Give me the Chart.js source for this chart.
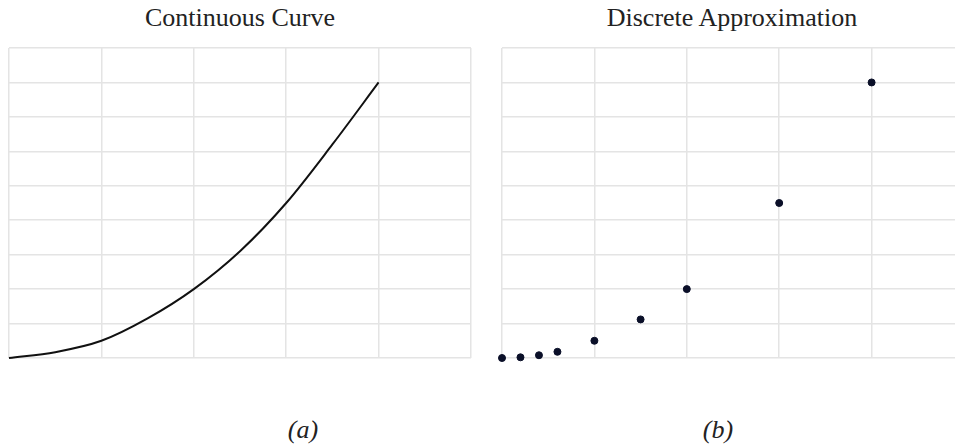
<!DOCTYPE html>
<html>
<head>
<meta charset="utf-8">
<script src="https://cdn.jsdelivr.net/npm/chart.js@4"></script>
<style>
  html, body { margin: 0; padding: 0; background: #fff; width: 955px; height: 448px; overflow: hidden; }
  #wrap { position: relative; width: 955px; height: 448px; overflow: hidden; }
  canvas { position: absolute; }
  .title, .cap { position: absolute; font-family: "Liberation Serif", Tinos, "Times New Roman", Times, "DejaVu Serif", serif; font-size: 26px; color: #222; white-space: nowrap; transform: translateX(-50%); line-height: 1; }
  .cap { font-style: italic; }
</style>
</head>
<body>
<div id="wrap">
  <div class="title" style="left:240px; top:5px;">Continuous Curve</div>
  <div class="title" style="left:732px; top:5px;">Discrete Approximation</div>
  <canvas id="curveChart" width="480" height="330" style="left:0px; top:38px;"></canvas>
  <canvas id="pointsChart" width="510" height="330" style="left:478px; top:38px;"></canvas>
  <div class="cap" style="left:303px; top:417px;">(a)</div>
  <div class="cap" style="left:718px; top:417px;">(b)</div>
</div>
<script>
// values
const curveX = [0, 0.5, 1, 1.5, 2, 2.5, 3, 3.5, 4];
const curveY = [0, 0.17, 0.5, 1.15, 2, 3.1, 4.5, 6.2, 8];

const pointsX = [0, 0.2, 0.4, 0.6, 1, 1.5, 2, 3, 4];
const pointsY = [0, 0.02, 0.08, 0.18, 0.5, 1.12, 2, 4.5, 8];

const gridColor = '#e4e4e4';

function axes() {
  const scale = (max) => ({
    type: 'linear',
    min: 0,
    max: max,
    ticks: { display: false, stepSize: 1 },
    grid: { color: gridColor, lineWidth: 1.5, drawTicks: false },
    border: { display: false }
  });
  return { x: scale(5), y: scale(9) };
}

// left: smooth curve
new Chart(document.getElementById('curveChart'), {
  type: 'scatter',
  data: {
    datasets: [{
      data: curveX.map((x, i) => ({ x: x, y: curveY[i] })),
      showLine: true,
      borderColor: '#111',
      borderWidth: 2,
      pointRadius: 0,
      cubicInterpolationMode: 'monotone',
      clip: false
    }]
  },
  options: {
    responsive: false,
    devicePixelRatio: 1,
    animation: false,
    layout: { padding: { left: 9, right: 9, top: 10, bottom: 10 } },
    scales: axes(),
    plugins: { legend: { display: false }, tooltip: { enabled: false } }
  }
});

// right: sampled points
new Chart(document.getElementById('pointsChart'), {
  type: 'scatter',
  data: {
    datasets: [{
      data: pointsX.map((x, i) => ({ x: x, y: pointsY[i] })),
      backgroundColor: '#0a0f28',
      borderColor: '#0a0f28',
      pointRadius: 3.5,
      clip: false
    }]
  },
  options: {
    responsive: false,
    devicePixelRatio: 1,
    animation: false,
    layout: { padding: { left: 24, right: 24, top: 10, bottom: 10 } },
    scales: axes(),
    plugins: { legend: { display: false }, tooltip: { enabled: false } }
  }
});
</script>
</body>
</html>
